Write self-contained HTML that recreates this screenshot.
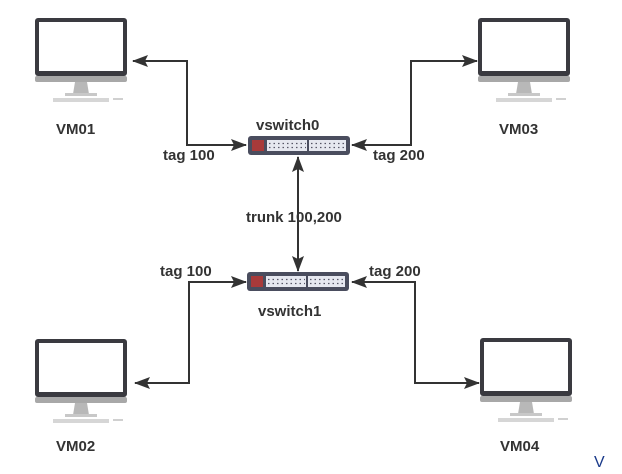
<!DOCTYPE html>
<html><head><meta charset="utf-8"><style>
html,body{margin:0;padding:0;background:#fff;}
svg{display:block;}
text{font-family:"Liberation Sans",sans-serif;font-weight:bold;fill:#333;}
</style></head><body>
<svg width="622" height="474" viewBox="0 0 622 474" xmlns="http://www.w3.org/2000/svg">
<defs>
<g id="mon">
<rect x="0" y="0" width="92" height="58" rx="3" fill="#3a3a40"/>
<rect x="4" y="4" width="84" height="49" fill="#fff"/>
<rect x="0" y="58" width="92" height="6" rx="2" fill="#a8a8a8"/>
<polygon points="40,64 52,64 54,76 38,76" fill="#b8b8b8"/>
<rect x="30" y="75" width="32" height="3" fill="#c8c8c8"/>
<rect x="18" y="80" width="56" height="4" fill="#d6d6d6"/>
<rect x="78" y="80" width="10" height="2" fill="#d0d0d0"/>
</g>
<g id="sw">
<rect x="0" y="0" width="102" height="19" rx="3" fill="#4a4d5e"/>
<rect x="4" y="4" width="12" height="11" fill="#a83a3a"/>
<rect x="19" y="4" width="40" height="11" fill="#e6e8f0"/>
<rect x="61" y="4" width="37" height="11" fill="#e6e8f0"/>
<g stroke="#556" stroke-width="1.2" stroke-dasharray="1.5,3">
<line x1="21" y1="7.5" x2="58" y2="7.5"/><line x1="21" y1="11.5" x2="58" y2="11.5"/>
<line x1="63" y1="7.5" x2="97" y2="7.5"/><line x1="63" y1="11.5" x2="97" y2="11.5"/>
</g>
</g>
<marker id="a2" markerWidth="16" markerHeight="12" refX="15" refY="6" orient="auto" markerUnits="userSpaceOnUse" viewBox="0 0 16 12">
<path d="M0,0 L16,6 L0,12 L3,6 Z" fill="#333"/>
</marker>
</defs>

<use href="#mon" x="35" y="18"/>
<use href="#mon" x="478" y="18"/>
<use href="#mon" x="35" y="339"/>
<use href="#mon" x="480" y="338"/>

<use href="#sw" x="248" y="136"/>
<use href="#sw" x="247" y="272"/>

<g fill="none" stroke="#333" stroke-width="2">
<polyline points="246,145 187,145 187,61 133,61" marker-end="url(#a2)"/>
<polyline points="190,145 246,145" marker-end="url(#a2)"/>
<polyline points="352,145 411,145 411,61 477,61" marker-end="url(#a2)"/>
<polyline points="400,145 352,145" marker-end="url(#a2)"/>
<line x1="298" y1="200" x2="298" y2="157" marker-end="url(#a2)"/>
<line x1="298" y1="230" x2="298" y2="271" marker-end="url(#a2)"/>
<line x1="298" y1="200" x2="298" y2="230"/>
<polyline points="246,282 189,282 189,383 135,383" marker-end="url(#a2)"/>
<polyline points="200,282 246,282" marker-end="url(#a2)"/>
<polyline points="352,282 415,282 415,383 479,383" marker-end="url(#a2)"/>
<polyline points="400,282 352,282" marker-end="url(#a2)"/>
</g>

<g font-size="15">
<text x="56" y="134">VM01</text>
<text x="499" y="134">VM03</text>
<text x="56" y="451">VM02</text>
<text x="500" y="451">VM04</text>
<text x="256" y="130">vswitch0</text>
<text x="258" y="316">vswitch1</text>
<text x="163" y="160">tag 100</text>
<text x="373" y="160">tag 200</text>
<text x="160" y="276">tag 100</text>
<text x="369" y="276">tag 200</text>
<text x="246" y="222">trunk 100,200</text>
</g>
<text x="594" y="467" font-size="16" style="font-weight:normal;fill:#1a3a8a">V</text>
</svg>
</body></html>
